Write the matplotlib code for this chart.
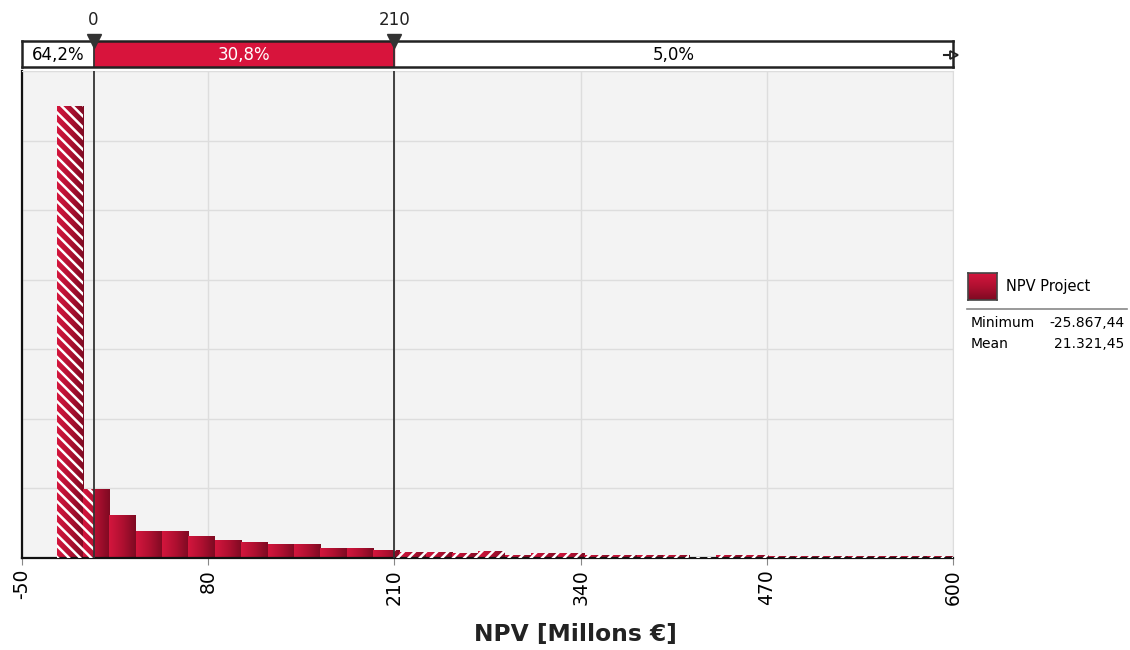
import matplotlib.pyplot as plt
from matplotlib.colors import LinearSegmentedColormap
import numpy as np

# histogram of simulated NPV (bar heights in % per bin)
bin_start = -25.867
bin_width = 18.41
heights = [64.9, 9.9, 6.25, 3.9, 3.9, 3.2, 2.65, 2.25, 2.0, 1.95,
           1.45, 1.4, 1.15, 0.9, 0.9, 0.72, 1.0, 0.45, 0.65, 0.65,
           0.45, 0.45, 0.45, 0.4, 0.15, 0.4, 0.4, 0.25, 0.25, 0.25,
           0.25, 0.25, 0.25, 0.25]

low_cut = 0
high_cut = 210
pct_labels = ['64,2%', '30,8%', '5,0%']
xticks = [-50, 80, 210, 340, 470, 600]
x_min, x_max = -50, 600

series_name = 'NPV Project'
stats_names = ['Minimum', 'Mean']
stats_values = ['-25.867,44', '21.321,45']

crimson = '#d8143c'
grad = LinearSegmentedColormap.from_list('g', ['#d3163d', '#b01031', '#7e0a22'])
gimg = np.linspace(0, 1, 64).reshape(1, -1)

fig = plt.figure(figsize=(11.3, 6.5), dpi=100)
ax = fig.add_axes([22 / 1130, 1 - 558 / 650, 931 / 1130, 487 / 650])
ax.set_facecolor('#f3f3f3')

lefts = bin_start + bin_width * np.arange(len(heights))
bars = ax.bar(lefts, heights, width=bin_width, align='edge',
              color=crimson, linewidth=0, zorder=2)
for b in bars:
    im = ax.imshow(gimg, cmap=grad, aspect='auto', zorder=2.5,
                   extent=[b.get_x(), b.get_x() + b.get_width(), 0, b.get_height()])
    im.set_clip_path(b)

# hatch the parts outside the 0..210 range
plt.rcParams['hatch.linewidth'] = 1.8
for left, h in zip(lefts, heights):
    right = left + bin_width
    if left < low_cut:
        r = min(right, low_cut)
        ax.bar(left, h, width=r - left, align='edge', facecolor='none',
               edgecolor='white', hatch='\\\\\\', linewidth=0, zorder=3)
    if right > high_cut:
        l = max(left, high_cut)
        ax.bar(l, h, width=right - l, align='edge', facecolor='none',
               edgecolor='white', hatch='///', linewidth=0, zorder=3)

ax.set_xlim(x_min, x_max)
ax.set_ylim(0, 70)
ax.set_yticks(np.arange(0, 71, 10))
ax.set_yticklabels([])
ax.tick_params(axis='y', length=0)
ax.set_xticks(xticks)
ax.set_xticklabels([str(v) for v in xticks], rotation=90, fontsize=13.5)
ax.tick_params(axis='x', length=5, color='#888888', pad=3)
ax.grid(True, color='#dddddd', linewidth=1, zorder=0)
ax.set_axisbelow(True)
for s in ['top', 'right']:
    ax.spines[s].set_color('#dddddd')
for s in ['left', 'bottom']:
    ax.spines[s].set_color('#111111')
    ax.spines[s].set_linewidth(1.6)
for v in (low_cut, high_cut):
    ax.axvline(v, color='#333333', linewidth=1.3, zorder=4)

fig.text(575 / 1130, 1 - 635 / 650, 'NPV [Millons \u20ac]', ha='center',
         va='center', fontsize=16.8, fontweight='bold', color='#222222')

# percentile bar on top
tb = fig.add_axes([22 / 1130, 1 - 67 / 650, 931 / 1130, 26 / 650])
tb.set_xlim(x_min, x_max)
tb.set_ylim(0, 1)
tb.axvspan(low_cut, high_cut, color=crimson, zorder=1)
for v in (low_cut, high_cut):
    tb.axvline(v, color='#333333', linewidth=1.3)
tb.set_xticks([])
tb.set_yticks([])
for s in tb.spines.values():
    s.set_linewidth(1.8)
    s.set_color('#222222')
tb.text((x_min + low_cut) / 2, 0.45, pct_labels[0], ha='center', va='center', fontsize=12)
tb.text((low_cut + high_cut) / 2, 0.45, pct_labels[1], ha='center', va='center',
        fontsize=12, color='white')
tb.text((high_cut + x_max) / 2, 0.45, pct_labels[2], ha='center', va='center', fontsize=12)
tb.plot([low_cut, high_cut], [1, 1], 'v', color='#333333', markersize=10,
        clip_on=False, zorder=5)
for v in (low_cut, high_cut):
    tb.text(v, 1.8, str(v), ha='center', va='center', fontsize=12, color='#222222')
tb.plot([x_max - 6, x_max], [0.45, 0.45], color='#222222', lw=1.5, clip_on=False)
tb.plot([x_max + 1], [0.45], '>', markersize=6, mfc='white', mec='#222222',
        mew=1.3, clip_on=False)

# legend / statistics panel
lg = fig.add_axes([968 / 1130, 1 - 300 / 650, 29 / 1130, 27 / 650])
lg.imshow(np.linspace(0, 1, 64).reshape(-1, 1) * np.ones((1, 64)), cmap=grad,
          aspect='auto', extent=[0, 1, 0, 1])
lg.set_xticks([])
lg.set_yticks([])
for s in lg.spines.values():
    s.set_color('#444444')
    s.set_linewidth(1.2)
fig.text(1006 / 1130, 1 - 287 / 650, series_name, ha='left', va='center', fontsize=10.5)
fig.add_artist(plt.Line2D([967 / 1130, 1127 / 1130], [1 - 309 / 650, 1 - 309 / 650],
                          color='#888888', linewidth=1.2))
for i, (n, v) in enumerate(zip(stats_names, stats_values)):
    y = 1 - (323 + 21 * i) / 650
    fig.text(971 / 1130, y, n, ha='left', va='center', fontsize=10)
    fig.text(1124 / 1130, y, v, ha='right', va='center', fontsize=10)

fig.savefig('out.png', dpi=100)
